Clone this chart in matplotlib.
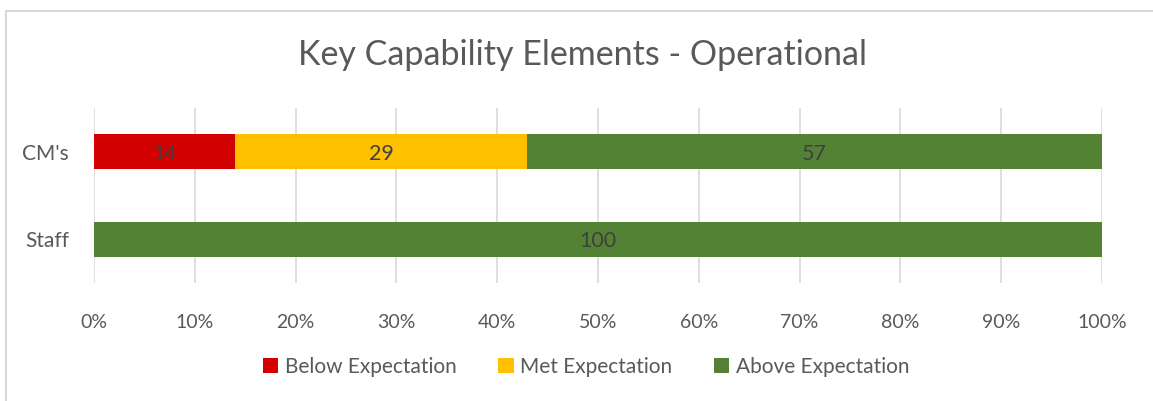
import matplotlib
matplotlib.use("Agg")
import matplotlib.pyplot as plt
from matplotlib.lines import Line2D
from matplotlib.patches import Patch

categories = ["CM's", "Staff"]
series_names = ["Below Expectation", "Met Expectation", "Above Expectation"]
below = [14, 0]
met = [29, 0]
above = [57, 100]
colors = ["#D20000", "#FFC000", "#548235"]
xticks = [0, 10, 20, 30, 40, 50, 60, 70, 80, 90, 100]
xtick_labels = [f"{v}%" for v in xticks]

plt.rcParams['font.family'] = ['Lato', 'DejaVu Sans']

W, H = 1153, 401
fig = plt.figure(figsize=(W / 100, H / 100), dpi=100)
ax = fig.add_axes([94 / W, 1 - 283 / H, (1102 - 94) / W, (283 - 108) / H])

y = list(range(len(categories)))
left = [0] * len(categories)
for name, vals, col in zip(series_names, [below, met, above], colors):
    bars = ax.barh(y, vals, left=left, height=0.4, color=col, label=name, zorder=3)
    for b, v in zip(bars, vals):
        if v > 0:
            ax.text(b.get_x() + b.get_width() / 2, b.get_y() + b.get_height() / 2 + 0.02,
                    f"{v}", ha='center', va='center', fontsize=15.5, color='#404040', zorder=4)
    left = [l + v for l, v in zip(left, vals)]

ax.set_xlim(0, 100)
ax.set_ylim(1.5, -0.5)
ax.set_yticks(y)
ax.set_yticklabels(categories, fontsize=15, color='#595959')
ax.set_xticks(xticks)
ax.set_xticklabels(xtick_labels, fontsize=14, color='#595959')
ax.tick_params(axis='both', length=0)
ax.tick_params(axis='x', pad=22)
ax.tick_params(axis='y', pad=18)
for s in ax.spines.values():
    s.set_visible(False)
ax.grid(axis='x', color='#D9D9D9', linewidth=1.2, zorder=0)
ax.set_axisbelow(True)

fig.text(582 / W, 1 - 55 / H, "Key Capability Elements - Operational",
         ha='center', va='center', fontsize=24.5, color='#595959')

handles = [Patch(facecolor=c, edgecolor='none') for c in colors]
fig.legend(handles, series_names, loc='center', bbox_to_anchor=(586 / W, 1 - 367 / H),
           ncol=3, frameon=False, fontsize=15, labelcolor='#595959',
           handlelength=0.75, handleheight=0.75, handletextpad=0.3, columnspacing=2.0)

# chart border (top and left visible)
fig.add_artist(Line2D([6 / W, 1], [1 - 11 / H, 1 - 11 / H], color='#D9D9D9', linewidth=1.5,
                      transform=fig.transFigure))
fig.add_artist(Line2D([6 / W, 6 / W], [0, 1 - 11 / H], color='#D9D9D9', linewidth=1.5,
                      transform=fig.transFigure))

fig.savefig("out.png", dpi=100)
